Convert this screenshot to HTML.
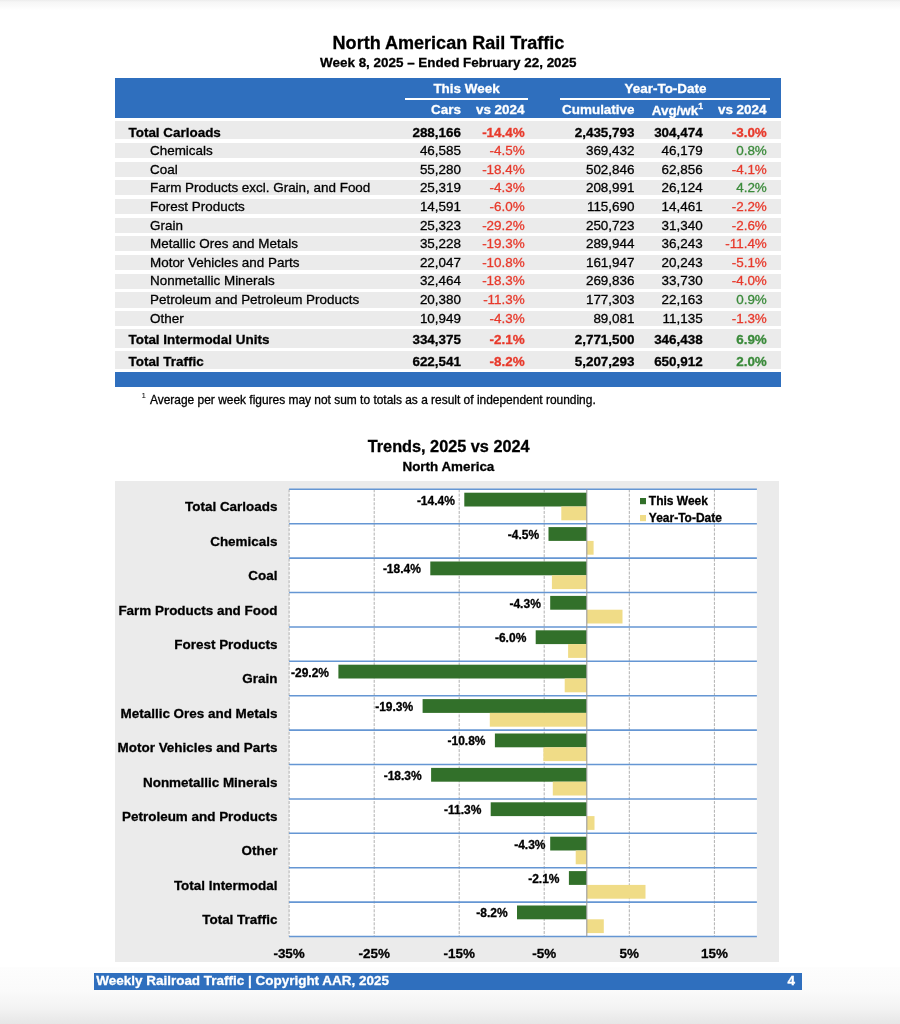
<!DOCTYPE html>
<html><head><meta charset="utf-8"><title>North American Rail Traffic</title>
<style>
html,body{margin:0;padding:0;}
body{width:900px;height:1024px;position:relative;overflow:hidden;background:#fff;font-family:"Liberation Sans",Arial,sans-serif;color:#000;}
.abs{position:absolute;}
.x{position:absolute;white-space:nowrap;line-height:0;height:0;-webkit-text-stroke:0.3px;}
.band{position:absolute;left:115px;width:666px;background:#ebebeb;}
</style></head><body>
<div class="abs" style="left:0;top:0;width:900px;height:10px;background:linear-gradient(to bottom,#ececec 0%,#f6f6f6 20%,#fbfbfb 70%,#ffffff 100%);"></div>
<div class="abs" style="left:0;top:967px;width:900px;height:57px;background:linear-gradient(to bottom,#fdfdfd 0%,#fafafa 42%,#f3f3f3 72%,#e6e6e6 100%);"></div>

<div class="x" style="top:43px;font-size:18.05px;left:148.5px;width:600px;text-align:center;font-weight:bold;">North American Rail Traffic</div>
<div class="x" style="top:63px;font-size:13.43px;left:148.3px;width:600px;text-align:center;font-weight:bold;">Week 8, 2025 – Ended February 22, 2025</div>
<div class="abs" style="left:115px;top:78px;width:666px;height:40px;background:#2f6fbe;"></div>
<div class="abs" style="left:405px;top:98px;width:122.5px;height:2px;background:#fff;"></div>
<div class="abs" style="left:559.5px;top:98px;width:210.7px;height:2px;background:#fff;"></div>
<div class="x" style="top:89px;font-size:13.45px;left:166.5px;width:600px;text-align:center;font-weight:bold;color:#fff;">This Week</div>
<div class="x" style="top:89px;font-size:13.45px;left:365.5px;width:600px;text-align:center;font-weight:bold;color:#fff;">Year-To-Date</div>
<div class="x" style="top:110px;font-size:13.45px;right:439.0px;font-weight:bold;color:#fff;">Cars</div>
<div class="x" style="top:110px;font-size:13.45px;right:375.5px;font-weight:bold;color:#fff;">vs 2024</div>
<div class="x" style="top:110px;font-size:13.45px;right:265.5px;font-weight:bold;color:#fff;">Cumulative</div>
<div class="x" style="top:111px;font-size:13.45px;right:197.0px;font-weight:bold;color:#fff;">Avg/wk<span style="font-size:8.5px;position:relative;top:-6px;">1</span></div>
<div class="x" style="top:110px;font-size:13.45px;right:133.5px;font-weight:bold;color:#fff;">vs 2024</div>
<div class="band" style="top:121.0px;height:18.4px;"></div>
<div class="x" style="top:133px;font-size:13.45px;left:128.5px;font-weight:bold;">Total Carloads</div>
<div class="x" style="top:133px;font-size:13.45px;right:439.0px;font-weight:bold;">288,166</div>
<div class="x" style="top:133px;font-size:13.45px;right:375.3px;font-weight:bold;color:#e8392b;">-14.4%</div>
<div class="x" style="top:133px;font-size:13.45px;right:265.5px;font-weight:bold;">2,435,793</div>
<div class="x" style="top:133px;font-size:13.45px;right:197.3px;font-weight:bold;">304,474</div>
<div class="x" style="top:133px;font-size:13.45px;right:133.2px;font-weight:bold;color:#e8392b;">-3.0%</div>
<div class="band" style="top:142.9px;height:15.3px;"></div>
<div class="x" style="top:151px;font-size:13.45px;left:150.0px;">Chemicals</div>
<div class="x" style="top:151px;font-size:13.45px;right:439.0px;">46,585</div>
<div class="x" style="top:151px;font-size:13.45px;right:375.3px;color:#e8392b;">-4.5%</div>
<div class="x" style="top:151px;font-size:13.45px;right:265.5px;">369,432</div>
<div class="x" style="top:151px;font-size:13.45px;right:197.3px;">46,179</div>
<div class="x" style="top:151px;font-size:13.45px;right:133.2px;color:#3a8a3a;">0.8%</div>
<div class="band" style="top:161.6px;height:15.3px;"></div>
<div class="x" style="top:170px;font-size:13.45px;left:150.0px;">Coal</div>
<div class="x" style="top:170px;font-size:13.45px;right:439.0px;">55,280</div>
<div class="x" style="top:170px;font-size:13.45px;right:375.3px;color:#e8392b;">-18.4%</div>
<div class="x" style="top:170px;font-size:13.45px;right:265.5px;">502,846</div>
<div class="x" style="top:170px;font-size:13.45px;right:197.3px;">62,856</div>
<div class="x" style="top:170px;font-size:13.45px;right:133.2px;color:#e8392b;">-4.1%</div>
<div class="band" style="top:180.2px;height:15.3px;"></div>
<div class="x" style="top:188px;font-size:13.45px;left:150.0px;">Farm Products excl. Grain, and Food</div>
<div class="x" style="top:188px;font-size:13.45px;right:439.0px;">25,319</div>
<div class="x" style="top:188px;font-size:13.45px;right:375.3px;color:#e8392b;">-4.3%</div>
<div class="x" style="top:188px;font-size:13.45px;right:265.5px;">208,991</div>
<div class="x" style="top:188px;font-size:13.45px;right:197.3px;">26,124</div>
<div class="x" style="top:188px;font-size:13.45px;right:133.2px;color:#3a8a3a;">4.2%</div>
<div class="band" style="top:198.9px;height:15.3px;"></div>
<div class="x" style="top:207px;font-size:13.45px;left:150.0px;">Forest Products</div>
<div class="x" style="top:207px;font-size:13.45px;right:439.0px;">14,591</div>
<div class="x" style="top:207px;font-size:13.45px;right:375.3px;color:#e8392b;">-6.0%</div>
<div class="x" style="top:207px;font-size:13.45px;right:265.5px;">115,690</div>
<div class="x" style="top:207px;font-size:13.45px;right:197.3px;">14,461</div>
<div class="x" style="top:207px;font-size:13.45px;right:133.2px;color:#e8392b;">-2.2%</div>
<div class="band" style="top:217.6px;height:15.3px;"></div>
<div class="x" style="top:226px;font-size:13.45px;left:150.0px;">Grain</div>
<div class="x" style="top:226px;font-size:13.45px;right:439.0px;">25,323</div>
<div class="x" style="top:226px;font-size:13.45px;right:375.3px;color:#e8392b;">-29.2%</div>
<div class="x" style="top:226px;font-size:13.45px;right:265.5px;">250,723</div>
<div class="x" style="top:226px;font-size:13.45px;right:197.3px;">31,340</div>
<div class="x" style="top:226px;font-size:13.45px;right:133.2px;color:#e8392b;">-2.6%</div>
<div class="band" style="top:236.2px;height:15.3px;"></div>
<div class="x" style="top:244px;font-size:13.45px;left:150.0px;">Metallic Ores and Metals</div>
<div class="x" style="top:244px;font-size:13.45px;right:439.0px;">35,228</div>
<div class="x" style="top:244px;font-size:13.45px;right:375.3px;color:#e8392b;">-19.3%</div>
<div class="x" style="top:244px;font-size:13.45px;right:265.5px;">289,944</div>
<div class="x" style="top:244px;font-size:13.45px;right:197.3px;">36,243</div>
<div class="x" style="top:244px;font-size:13.45px;right:133.2px;color:#e8392b;">-11.4%</div>
<div class="band" style="top:254.9px;height:15.3px;"></div>
<div class="x" style="top:263px;font-size:13.45px;left:150.0px;">Motor Vehicles and Parts</div>
<div class="x" style="top:263px;font-size:13.45px;right:439.0px;">22,047</div>
<div class="x" style="top:263px;font-size:13.45px;right:375.3px;color:#e8392b;">-10.8%</div>
<div class="x" style="top:263px;font-size:13.45px;right:265.5px;">161,947</div>
<div class="x" style="top:263px;font-size:13.45px;right:197.3px;">20,243</div>
<div class="x" style="top:263px;font-size:13.45px;right:133.2px;color:#e8392b;">-5.1%</div>
<div class="band" style="top:273.6px;height:15.3px;"></div>
<div class="x" style="top:281px;font-size:13.45px;left:150.0px;">Nonmetallic Minerals</div>
<div class="x" style="top:281px;font-size:13.45px;right:439.0px;">32,464</div>
<div class="x" style="top:281px;font-size:13.45px;right:375.3px;color:#e8392b;">-18.3%</div>
<div class="x" style="top:281px;font-size:13.45px;right:265.5px;">269,836</div>
<div class="x" style="top:281px;font-size:13.45px;right:197.3px;">33,730</div>
<div class="x" style="top:281px;font-size:13.45px;right:133.2px;color:#e8392b;">-4.0%</div>
<div class="band" style="top:292.3px;height:15.3px;"></div>
<div class="x" style="top:300px;font-size:13.45px;left:150.0px;">Petroleum and Petroleum Products</div>
<div class="x" style="top:300px;font-size:13.45px;right:439.0px;">20,380</div>
<div class="x" style="top:300px;font-size:13.45px;right:375.3px;color:#e8392b;">-11.3%</div>
<div class="x" style="top:300px;font-size:13.45px;right:265.5px;">177,303</div>
<div class="x" style="top:300px;font-size:13.45px;right:197.3px;">22,163</div>
<div class="x" style="top:300px;font-size:13.45px;right:133.2px;color:#3a8a3a;">0.9%</div>
<div class="band" style="top:310.9px;height:15.3px;"></div>
<div class="x" style="top:319px;font-size:13.45px;left:150.0px;">Other</div>
<div class="x" style="top:319px;font-size:13.45px;right:439.0px;">10,949</div>
<div class="x" style="top:319px;font-size:13.45px;right:375.3px;color:#e8392b;">-4.3%</div>
<div class="x" style="top:319px;font-size:13.45px;right:265.5px;">89,081</div>
<div class="x" style="top:319px;font-size:13.45px;right:197.3px;">11,135</div>
<div class="x" style="top:319px;font-size:13.45px;right:133.2px;color:#e8392b;">-1.3%</div>
<div class="band" style="top:329.1px;height:18.5px;"></div>
<div class="x" style="top:340px;font-size:13.45px;left:128.5px;font-weight:bold;">Total Intermodal Units</div>
<div class="x" style="top:340px;font-size:13.45px;right:439.0px;font-weight:bold;">334,375</div>
<div class="x" style="top:340px;font-size:13.45px;right:375.3px;font-weight:bold;color:#e8392b;">-2.1%</div>
<div class="x" style="top:340px;font-size:13.45px;right:265.5px;font-weight:bold;">2,771,500</div>
<div class="x" style="top:340px;font-size:13.45px;right:197.3px;font-weight:bold;">346,438</div>
<div class="x" style="top:340px;font-size:13.45px;right:133.2px;font-weight:bold;color:#3a8a3a;">6.9%</div>
<div class="band" style="top:350.9px;height:18.2px;"></div>
<div class="x" style="top:362px;font-size:13.45px;left:128.5px;font-weight:bold;">Total Traffic</div>
<div class="x" style="top:362px;font-size:13.45px;right:439.0px;font-weight:bold;">622,541</div>
<div class="x" style="top:362px;font-size:13.45px;right:375.3px;font-weight:bold;color:#e8392b;">-8.2%</div>
<div class="x" style="top:362px;font-size:13.45px;right:265.5px;font-weight:bold;">5,207,293</div>
<div class="x" style="top:362px;font-size:13.45px;right:197.3px;font-weight:bold;">650,912</div>
<div class="x" style="top:362px;font-size:13.45px;right:133.2px;font-weight:bold;color:#3a8a3a;">2.0%</div>
<div class="abs" style="left:115px;top:372.4px;width:666px;height:14.5px;background:#2f6fbe;"></div>
<div class="x" style="top:396px;font-size:8px;left:141.5px;-webkit-text-stroke:0;">1</div>
<div class="x" style="top:400px;font-size:11.95px;left:150.0px;">Average per week figures may not sum to totals as a result of independent rounding.</div>
<div class="x" style="top:446px;font-size:16.27px;left:148.7px;width:600px;text-align:center;font-weight:bold;">Trends, 2025 vs 2024</div>
<div class="x" style="top:467px;font-size:13.4px;left:148.4px;width:600px;text-align:center;font-weight:bold;">North America</div>
<div class="abs" style="left:115px;top:481px;width:664px;height:480.6px;background:#ebebeb;"></div>
<svg class="abs" style="left:0;top:0;" width="900" height="1024" viewBox="0 0 900 1024">
<rect x="289.1" y="489.3" width="467.8" height="447.2" fill="#fff"/>
<line x1="289.1" y1="489.3" x2="289.1" y2="936.5" stroke="#b0b0b0" stroke-width="1" stroke-dasharray="3,1.33"/>
<line x1="374.2" y1="489.3" x2="374.2" y2="936.5" stroke="#b0b0b0" stroke-width="1" stroke-dasharray="3,1.33"/>
<line x1="459.2" y1="489.3" x2="459.2" y2="936.5" stroke="#b0b0b0" stroke-width="1" stroke-dasharray="3,1.33"/>
<line x1="544.2" y1="489.3" x2="544.2" y2="936.5" stroke="#b0b0b0" stroke-width="1" stroke-dasharray="3,1.33"/>
<line x1="629.3" y1="489.3" x2="629.3" y2="936.5" stroke="#b0b0b0" stroke-width="1" stroke-dasharray="3,1.33"/>
<line x1="714.4" y1="489.3" x2="714.4" y2="936.5" stroke="#b0b0b0" stroke-width="1" stroke-dasharray="3,1.33"/>
<rect x="464.3" y="492.7" width="122.5" height="13.8" fill="#32702a"/>
<rect x="561.3" y="506.5" width="25.5" height="13.8" fill="#f0dc87"/>
<rect x="548.5" y="527.1" width="38.3" height="13.8" fill="#32702a"/>
<rect x="586.8" y="540.9" width="6.8" height="13.8" fill="#f0dc87"/>
<rect x="430.3" y="561.5" width="156.5" height="13.8" fill="#32702a"/>
<rect x="551.9" y="575.3" width="34.9" height="13.8" fill="#f0dc87"/>
<rect x="550.2" y="595.9" width="36.6" height="13.8" fill="#32702a"/>
<rect x="586.8" y="609.7" width="35.7" height="13.8" fill="#f0dc87"/>
<rect x="535.7" y="630.3" width="51.0" height="13.8" fill="#32702a"/>
<rect x="568.1" y="644.1" width="18.7" height="13.8" fill="#f0dc87"/>
<rect x="338.4" y="664.7" width="248.3" height="13.8" fill="#32702a"/>
<rect x="564.7" y="678.5" width="22.1" height="13.8" fill="#f0dc87"/>
<rect x="422.6" y="699.1" width="164.1" height="13.8" fill="#32702a"/>
<rect x="489.8" y="712.9" width="97.0" height="13.8" fill="#f0dc87"/>
<rect x="494.9" y="733.5" width="91.9" height="13.8" fill="#32702a"/>
<rect x="543.4" y="747.3" width="43.4" height="13.8" fill="#f0dc87"/>
<rect x="431.1" y="767.9" width="155.6" height="13.8" fill="#32702a"/>
<rect x="552.8" y="781.7" width="34.0" height="13.8" fill="#f0dc87"/>
<rect x="490.7" y="802.3" width="96.1" height="13.8" fill="#32702a"/>
<rect x="586.8" y="816.1" width="7.7" height="13.8" fill="#f0dc87"/>
<rect x="550.2" y="836.7" width="36.6" height="13.8" fill="#32702a"/>
<rect x="575.7" y="850.5" width="11.1" height="13.8" fill="#f0dc87"/>
<rect x="568.9" y="871.1" width="17.9" height="13.8" fill="#32702a"/>
<rect x="586.8" y="884.9" width="58.7" height="13.8" fill="#f0dc87"/>
<rect x="517.0" y="905.5" width="69.7" height="13.8" fill="#32702a"/>
<rect x="586.8" y="919.3" width="17.0" height="13.8" fill="#f0dc87"/>
<line x1="289.1" y1="489.3" x2="756.9" y2="489.3" stroke="#6596d3" stroke-width="1.55"/>
<line x1="289.1" y1="523.7" x2="756.9" y2="523.7" stroke="#6596d3" stroke-width="1.55"/>
<line x1="289.1" y1="558.1" x2="756.9" y2="558.1" stroke="#6596d3" stroke-width="1.55"/>
<line x1="289.1" y1="592.5" x2="756.9" y2="592.5" stroke="#6596d3" stroke-width="1.55"/>
<line x1="289.1" y1="626.9" x2="756.9" y2="626.9" stroke="#6596d3" stroke-width="1.55"/>
<line x1="289.1" y1="661.3" x2="756.9" y2="661.3" stroke="#6596d3" stroke-width="1.55"/>
<line x1="289.1" y1="695.7" x2="756.9" y2="695.7" stroke="#6596d3" stroke-width="1.55"/>
<line x1="289.1" y1="730.1" x2="756.9" y2="730.1" stroke="#6596d3" stroke-width="1.55"/>
<line x1="289.1" y1="764.5" x2="756.9" y2="764.5" stroke="#6596d3" stroke-width="1.55"/>
<line x1="289.1" y1="798.9" x2="756.9" y2="798.9" stroke="#6596d3" stroke-width="1.55"/>
<line x1="289.1" y1="833.3" x2="756.9" y2="833.3" stroke="#6596d3" stroke-width="1.55"/>
<line x1="289.1" y1="867.7" x2="756.9" y2="867.7" stroke="#6596d3" stroke-width="1.55"/>
<line x1="289.1" y1="902.1" x2="756.9" y2="902.1" stroke="#6596d3" stroke-width="1.55"/>
<line x1="289.1" y1="936.5" x2="756.9" y2="936.5" stroke="#6596d3" stroke-width="1.55"/>
<line x1="586.8" y1="489.3" x2="586.8" y2="936.5" stroke="#9a9a9a" stroke-width="1.1"/>
<rect x="640" y="498" width="6" height="6.2" fill="#32702a"/>
<rect x="640" y="515" width="6" height="6.2" fill="#f0dc87"/>
</svg>
<div class="x" style="top:507px;font-size:13.45px;right:622.6px;font-weight:bold;">Total Carloads</div>
<div class="x" style="top:501px;font-size:12px;right:445.1px;font-weight:bold;">-14.4%</div>
<div class="x" style="top:542px;font-size:13.45px;right:622.6px;font-weight:bold;">Chemicals</div>
<div class="x" style="top:535px;font-size:12px;right:360.9px;font-weight:bold;">-4.5%</div>
<div class="x" style="top:576px;font-size:13.45px;right:622.6px;font-weight:bold;">Coal</div>
<div class="x" style="top:569px;font-size:12px;right:479.1px;font-weight:bold;">-18.4%</div>
<div class="x" style="top:611px;font-size:13.45px;right:622.6px;font-weight:bold;">Farm Products and Food</div>
<div class="x" style="top:604px;font-size:12px;right:359.2px;font-weight:bold;">-4.3%</div>
<div class="x" style="top:645px;font-size:13.45px;right:622.6px;font-weight:bold;">Forest Products</div>
<div class="x" style="top:638px;font-size:12px;right:373.7px;font-weight:bold;">-6.0%</div>
<div class="x" style="top:679px;font-size:13.45px;right:622.6px;font-weight:bold;">Grain</div>
<div class="x" style="top:673px;font-size:12px;right:571.0px;font-weight:bold;">-29.2%</div>
<div class="x" style="top:714px;font-size:13.45px;right:622.6px;font-weight:bold;">Metallic Ores and Metals</div>
<div class="x" style="top:707px;font-size:12px;right:486.8px;font-weight:bold;">-19.3%</div>
<div class="x" style="top:748px;font-size:13.45px;right:622.6px;font-weight:bold;">Motor Vehicles and Parts</div>
<div class="x" style="top:741px;font-size:12px;right:414.5px;font-weight:bold;">-10.8%</div>
<div class="x" style="top:783px;font-size:13.45px;right:622.6px;font-weight:bold;">Nonmetallic Minerals</div>
<div class="x" style="top:776px;font-size:12px;right:478.3px;font-weight:bold;">-18.3%</div>
<div class="x" style="top:817px;font-size:13.45px;right:622.6px;font-weight:bold;">Petroleum and Products</div>
<div class="x" style="top:810px;font-size:12px;right:418.7px;font-weight:bold;">-11.3%</div>
<div class="x" style="top:851px;font-size:13.45px;right:622.6px;font-weight:bold;">Other</div>
<div class="x" style="top:845px;font-size:12px;right:354.5px;font-weight:bold;">-4.3%</div>
<div class="x" style="top:886px;font-size:13.45px;right:622.6px;font-weight:bold;">Total Intermodal</div>
<div class="x" style="top:879px;font-size:12px;right:340.5px;font-weight:bold;">-2.1%</div>
<div class="x" style="top:920px;font-size:13.45px;right:622.6px;font-weight:bold;">Total Traffic</div>
<div class="x" style="top:913px;font-size:12px;right:392.4px;font-weight:bold;">-8.2%</div>
<div class="x" style="top:501px;font-size:12px;left:648.8px;font-weight:bold;">This Week</div>
<div class="x" style="top:518px;font-size:12px;left:648.8px;font-weight:bold;">Year-To-Date</div>
<div class="x" style="top:954px;font-size:13.45px;left:-10.9px;width:600px;text-align:center;font-weight:bold;">-35%</div>
<div class="x" style="top:954px;font-size:13.45px;left:74.2px;width:600px;text-align:center;font-weight:bold;">-25%</div>
<div class="x" style="top:954px;font-size:13.45px;left:159.2px;width:600px;text-align:center;font-weight:bold;">-15%</div>
<div class="x" style="top:954px;font-size:13.45px;left:244.2px;width:600px;text-align:center;font-weight:bold;">-5%</div>
<div class="x" style="top:954px;font-size:13.45px;left:329.3px;width:600px;text-align:center;font-weight:bold;">5%</div>
<div class="x" style="top:954px;font-size:13.45px;left:414.4px;width:600px;text-align:center;font-weight:bold;">15%</div>
<div class="abs" style="left:94.2px;top:972.5px;width:708px;height:17.2px;background:#2f6fbe;"></div>
<div class="x" style="top:981px;font-size:13.47px;left:96.3px;font-weight:bold;color:#fff;">Weekly Railroad Traffic | Copyright AAR, 2025</div>
<div class="x" style="top:981px;font-size:13.47px;left:787.5px;font-weight:bold;color:#fff;">4</div>
</body></html>
